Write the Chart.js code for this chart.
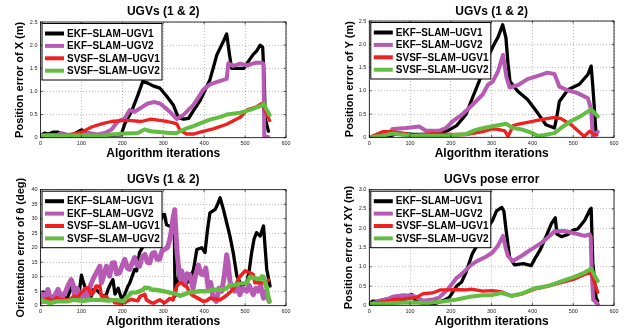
<!DOCTYPE html>
<html><head><meta charset="utf-8">
<script src="https://cdn.jsdelivr.net/npm/chart.js@4.4.1/dist/chart.umd.min.js"></script>
<style>
html,body{margin:0;padding:0;background:#fff;}
body{width:627px;height:336px;position:relative;overflow:hidden;}
.cell{position:absolute;}
canvas{display:block;}
</style></head><body>
<div class="cell" style="left:0;top:0;width:300px;height:168px"><canvas id="c1" width="300" height="168" style="width:300px;height:168px"></canvas></div>
<div class="cell" style="left:330px;top:0;width:297px;height:168px"><canvas id="c2" width="297" height="168" style="width:297px;height:168px"></canvas></div>
<div class="cell" style="left:0;top:168px;width:300px;height:168px"><canvas id="c3" width="300" height="168" style="width:300px;height:168px"></canvas></div>
<div class="cell" style="left:330px;top:168px;width:297px;height:168px"><canvas id="c4" width="297" height="168" style="width:297px;height:168px"></canvas></div>
<script>
// ---- labels and ticks ----
const seriesLabels = ['EKF\u2013SLAM\u2013UGV1', 'EKF\u2013SLAM\u2013UGV2', 'SVSF\u2013SLAM\u2013UGV1', 'SVSF\u2013SLAM\u2013UGV2'];
const chartTitles = ['UGVs (1 & 2)', 'UGVs (1 & 2)', 'UGVs (1 & 2)', 'UGVs pose error'];
const yAxisTitles = ['Position error of X (m)', 'Position error of Y (m)', 'Orientation error of \u03b8 (deg)', 'Position error of XY (m)'];
const xAxisTitle = 'Algorithm iterations';
const iterTicks = [0, 100, 200, 300, 400, 500, 600];
const errXTicks = [0, 0.5, 1, 1.5, 2, 2.5];
const errYTicks = [0, 0.5, 1, 1.5, 2, 2.5];
const thetaTicks = [0, 5, 10, 15, 20, 25, 30, 35, 40];
const poseTicks = [0, 0.5, 1, 1.5, 2, 2.5, 3];

// ---- series: [iteration, value] ----
const ekf1X = [[0,0.05],[10,0.1],[20,0.08],[30,0.12],[43,0.12],[50,0.08],[59,0.05],[75,0.04],[90,0.12],[100,0.17],[116,0.1],[132,0.06],[160,0.05],[197,0.06],[206,0.3],[222,0.56],[238,0.92],[250,1.22],[262,1.18],[275,1.12],[292,1.07],[308,0.9],[325,0.7],[337,0.43],[350,0.4],[362,0.42],[375,0.6],[390,0.8],[414,1.25],[431,1.79],[448,2.1],[455,2.24],[462,1.79],[467,1.5],[480,1.5],[497,1.5],[508,1.65],[520,1.8],[528,1.87],[537,2.0],[543,1.95],[547,1.2],[549,0.43],[557,0.14]];
const ekf2X = [[0,0.03],[20,0.06],[40,0.05],[51,0.1],[67,0.06],[90,0.06],[116,0.1],[140,0.07],[157,0.1],[173,0.17],[189,0.35],[206,0.42],[218,0.6],[230,0.56],[246,0.65],[262,0.74],[279,0.77],[292,0.74],[307,0.63],[317,0.55],[333,0.4],[350,0.5],[374,0.71],[398,1.04],[414,1.15],[430,1.2],[447,1.25],[455,1.27],[459,1.61],[471,1.55],[488,1.6],[505,1.56],[518,1.6],[528,1.62],[541,1.62],[545,1.6],[547,0.02],[556,0.02]];
const svsf1X = [[0,0.05],[30,0.06],[64,0.06],[80,0.08],[100,0.12],[125,0.23],[149,0.3],[173,0.35],[197,0.37],[222,0.37],[246,0.35],[270,0.4],[295,0.37],[310,0.35],[325,0.32],[333,0.3],[341,0.16],[357,0.08],[375,0.08],[390,0.12],[422,0.19],[455,0.29],[488,0.44],[505,0.6],[528,0.67],[541,0.74],[553,0.51],[560,0.37]];
const svsf2X = [[0,0.05],[50,0.05],[108,0.05],[140,0.04],[173,0.07],[206,0.09],[238,0.1],[254,0.18],[270,0.14],[295,0.12],[317,0.1],[333,0.1],[341,0.14],[357,0.2],[374,0.25],[390,0.31],[414,0.39],[440,0.45],[455,0.5],[488,0.54],[512,0.6],[537,0.68],[545,0.73],[553,0.6],[560,0.49]];

const ekf1Y = [[0,0],[30,0.02],[50,0.03],[73,0.09],[106,0.06],[139,0.06],[171,0.08],[196,0.16],[214,0.25],[237,0.49],[253,0.85],[270,1.22],[286,1.62],[302,1.93],[316,2.16],[327,2.42],[335,2.14],[340,1.6],[345,1.2],[364,0.99],[388,0.81],[413,0.52],[433,0.27],[454,0.2],[460,0.45],[466,0.77],[487,1.02],[515,1.14],[536,1.35],[544,1.53],[548,1.1],[552,0.6],[556,0.06]];
const ekf2Y = [[0,0],[30,0.04],[49,0.08],[57,0.18],[90,0.2],[123,0.23],[139,0.14],[171,0.14],[188,0.2],[204,0.34],[229,0.5],[253,0.7],[278,0.92],[291,1.13],[303,1.2],[316,1.43],[328,1.77],[336,1.3],[344,1.07],[364,1.12],[388,1.25],[413,1.32],[437,1.39],[454,1.36],[466,1.09],[487,1.01],[511,0.95],[536,0.84],[544,0.59],[548,0.03],[560,0.12]];
const svsf1Y = [[0,0],[33,0.12],[57,0.12],[81,0.09],[106,0.04],[155,0.08],[196,0.06],[237,0.06],[278,0.12],[302,0.18],[316,0.17],[332,0.14],[340,0.02],[353,0.25],[360,0.27],[388,0.32],[421,0.38],[454,0.43],[470,0.4],[495,0.27],[519,0.08],[527,0.02],[540,0.13],[552,0.05],[558,0.05]];
const svsf2Y = [[0,0],[30,0.03],[57,0.08],[100,0.04],[181,0.03],[237,0.07],[261,0.16],[286,0.21],[316,0.26],[336,0.29],[352,0.2],[373,0.17],[397,0.1],[413,0.03],[429,0.05],[454,0.09],[470,0.2],[495,0.35],[519,0.46],[544,0.6],[560,0.45]];

const ekf1T = [[0,2],[2,3.3],[7,4.7],[10,4.5],[18,3],[26,2.8],[31,3.2],[43,4.5],[51,3.3],[55,3.8],[64,2],[75,6.2],[80,5],[92,4.5],[96,6],[100,10.5],[104,8.4],[108,6.8],[112,3.8],[124,3.3],[129,5.5],[136,5.6],[145,4.4],[152,3.3],[161,3.8],[165,5.6],[170,7.2],[177,9],[182,4],[190,6],[197,2.8],[202,2.6],[214,6.8],[218,7.8],[230,12.5],[235,12],[242,18.3],[255,21.5],[267,21],[271,25.8],[280,25.6],[287,30],[292,29],[300,31.4],[303,31.5],[308,27.9],[316,27.4],[324,26.8],[327,26],[329,3.3],[333,8],[341,11.4],[348,8],[357,7.8],[365,9],[374,12.5],[382,19.4],[394,20],[402,18.3],[408,26],[414,32],[427,33.2],[433,35],[439,37.2],[447,33.2],[455,28.6],[463,24],[471,18.3],[480,10.2],[492,6.8],[504,7.9],[510,12],[516,18.3],[522,23],[528,25.2],[537,24],[545,27.5],[553,12.5],[561,6.8]];
const ekf2T = [[0,2],[5,4],[10,1.5],[18,5.6],[24,2.5],[30,1.7],[37,4],[43,5.6],[50,3],[55,3.3],[62,5],[67,6.8],[75,9],[80,7],[83,3.3],[90,6],[96,2.2],[104,4],[108,5.6],[112,2.6],[116,3.3],[122,7],[128,9],[134,10.7],[141,12.5],[145,13.6],[149,7.9],[153,9.5],[161,13.6],[169,10.2],[175,14.7],[181,14.8],[186,11],[193,11.3],[200,14],[206,16],[212,13],[218,12.5],[225,15],[230,16.6],[236,14],[242,13.6],[249,17],[255,17.7],[261,15],[267,14.8],[273,18],[279,18.3],[285,16],[291,16],[297,19],[303,19.4],[310,20],[316,22.8],[320,26],[324,30.2],[328,33.1],[331,25],[334,18],[338,12.5],[341,9.5],[345,12],[350,8],[353,7.8],[358,11],[365,10.7],[369,8],[373,6],[378,10],[386,14],[392,11],[398,10.7],[404,13],[410,6],[416,8],[422,2.6],[430,1.5],[436,6],[443,5],[449,10],[455,17.6],[458,15],[463,8.4],[469,6],[475,5],[481,7],[487,3.8],[494,6],[504,5],[510,7],[520,3.8],[526,6],[532,5],[538,7],[545,2.6],[550,5],[553,3.8],[559,1.5]];
const svsf1T = [[0,1],[10,2],[20,2.5],[30,1.5],[40,2.8],[50,2],[64,2],[75,2.5],[83,3.3],[88,2.6],[100,4.5],[104,5],[112,6.2],[117,6.1],[124,3.9],[129,4.4],[136,6.8],[145,6.7],[149,3.3],[161,3.2],[165,2.2],[178,2],[181,1],[194,0.9],[206,1],[210,1.5],[222,2.2],[227,2],[238,1.7],[243,3.2],[255,3.9],[259,2],[271,1],[276,0.9],[287,1.7],[292,2],[303,1],[308,1.5],[316,2.5],[324,2],[333,6.8],[341,7.9],[345,7.8],[353,6.8],[357,6.7],[365,4.5],[369,3.8],[382,2.8],[398,1.5],[406,1.7],[414,2.6],[431,2.2],[439,2],[455,3.6],[471,5.6],[487,10],[500,12],[504,11.8],[512,11.3],[520,10.7],[524,7.9],[537,8],[549,7.9],[557,8.8]];
const svsf2T = [[0,2],[23,0.9],[40,1.5],[64,1.5],[80,2],[104,1.7],[125,2],[145,2],[165,1.8],[186,2],[202,1.5],[210,2.8],[218,3.8],[222,4.5],[235,4.6],[251,5.5],[255,6.2],[267,6],[271,5.6],[284,5.4],[300,5],[316,4.5],[333,4],[341,3.4],[349,3.8],[365,4.6],[390,5],[406,5],[414,5.2],[422,5.5],[439,5.5],[455,6],[463,7.2],[471,7],[487,7.6],[504,7.8],[512,10],[520,9.7],[528,9.3],[536,9.2],[541,10.1],[545,10],[549,7.9],[553,6],[559,1.5]];

const ekf1XY = [[0,0.03],[8,0.11],[18,0.1],[41,0.16],[51,0.17],[65,0.11],[83,0.1],[94,0.24],[104,0.28],[114,0.11],[139,0.03],[165,0.06],[181,0.12],[196,0.2],[214,0.5],[226,0.6],[237,0.85],[253,1.35],[270,1.65],[286,1.95],[302,2.2],[312,2.45],[325,2.54],[330,2.44],[336,1.9],[344,1.25],[356,1.05],[378,1.08],[397,1.03],[405,1.19],[419,1.44],[435,1.83],[447,2.13],[456,2.27],[460,1.85],[471,1.78],[487,1.84],[500,1.95],[511,1.98],[528,2.2],[541,2.48],[544,2.52],[548,1.1],[552,0.7],[556,0.2],[560,0.11]];
const ekf2XY = [[0,0.03],[25,0.11],[42,0.15],[57,0.22],[83,0.26],[108,0.25],[132,0.12],[157,0.15],[171,0.2],[181,0.3],[196,0.46],[214,0.71],[221,0.76],[237,0.92],[250,1.05],[263,1.14],[286,1.26],[302,1.37],[315,1.54],[328,1.8],[334,1.5],[340,1.28],[352,1.15],[373,1.28],[397,1.45],[422,1.62],[442,1.8],[454,1.92],[479,1.93],[503,1.87],[528,1.8],[540,1.84],[543,1.78],[545,0.93],[549,0.15],[561,0.02]];
const svsf1XY = [[0,0.03],[41,0.11],[59,0.15],[90,0.17],[114,0.2],[132,0.3],[155,0.32],[175,0.4],[196,0.4],[214,0.41],[237,0.4],[250,0.42],[278,0.37],[302,0.38],[324,0.35],[348,0.24],[373,0.29],[405,0.42],[438,0.5],[470,0.59],[503,0.68],[528,0.8],[544,0.85],[552,0.59],[560,0.34]];
const svsf2XY = [[0,0.03],[59,0.06],[100,0.08],[141,0.06],[181,0.1],[214,0.15],[247,0.22],[278,0.26],[302,0.27],[324,0.32],[348,0.25],[373,0.3],[405,0.44],[438,0.5],[470,0.62],[503,0.74],[528,0.85],[544,0.95],[552,0.78],[560,0.63]];

// ---- styles ----
const FONT = '"Liberation Sans", Arial, Helvetica, sans-serif';
const seriesColors = ['#000000', '#b65ab4', '#ee2020', '#62bd42'];
const seriesWidths = [3.3, 4, 3.3, 4];
const thetaWidths = [3.3, 5, 3.6, 4.4];

const framePlugin = {
  id: 'frame',
  afterDatasetsDraw(chart) {
    const {ctx, chartArea: a, scales} = chart;
    ctx.save();
    ctx.strokeStyle = '#000';
    ctx.lineWidth = 0.8;
    ctx.strokeRect(a.left, a.top, a.right - a.left, a.bottom - a.top);
    ctx.lineWidth = 0.6;
    ctx.beginPath();
    scales.x.ticks.forEach(t => {
      const px = scales.x.getPixelForValue(t.value);
      ctx.moveTo(px, a.bottom); ctx.lineTo(px, a.bottom - 2.5);
      ctx.moveTo(px, a.top); ctx.lineTo(px, a.top + 2.5);
    });
    scales.y.ticks.forEach(t => {
      const py = scales.y.getPixelForValue(t.value);
      ctx.moveTo(a.left, py); ctx.lineTo(a.left + 2.5, py);
      ctx.moveTo(a.right, py); ctx.lineTo(a.right - 2.5, py);
    });
    ctx.stroke();
    // legend box
    const x = a.left + 1.5, y = a.top + 1.5, w = 120, h = 56.5;
    ctx.fillStyle = '#fff';
    ctx.fillRect(x, y, w, h);
    ctx.strokeStyle = '#000';
    ctx.lineWidth = 1;
    ctx.strokeRect(x, y, w, h);
    chart.data.datasets.forEach((ds, i) => {
      const ry = y + 10 + i * 12.4;
      ctx.strokeStyle = ds.borderColor;
      ctx.lineWidth = 4;
      ctx.lineCap = 'butt';
      ctx.beginPath(); ctx.moveTo(x + 3, ry); ctx.lineTo(x + 22, ry); ctx.stroke();
      ctx.fillStyle = '#000';
      ctx.font = 'bold 10px ' + FONT;
      ctx.textBaseline = 'middle';
      ctx.textAlign = 'left';
      ctx.fillText(ds.label, x + 25, ry + 0.5);
    });
    ctx.restore();
  }
};

function build(id, idx, series, yTicks, widths, L) {
  const yMax = yTicks[yTicks.length - 1];
  const tickFont = {family: FONT, size: 5.5};
  const gridOpts = {color: 'rgba(0,0,0,0.32)', lineWidth: 0.8, drawTicks: false};
  new Chart(document.getElementById(id), {
    type: 'line',
    data: {
      datasets: series.map((pts, i) => ({
        label: seriesLabels[i],
        data: pts.map(p => ({x: p[0], y: p[1]})),
        borderColor: seriesColors[i],
        backgroundColor: seriesColors[i],
        borderWidth: widths[i],
        pointRadius: 0,
        tension: 0,
        fill: false,
        order: 3 - i,
        borderJoinStyle: 'round',
        borderCapStyle: 'round'
      }))
    },
    options: {
      responsive: false,
      animation: false,
      devicePixelRatio: 1,
      events: [],
      layout: {padding: {left: 0, right: L.padRight, top: 0, bottom: 0}},
      plugins: {
        legend: {display: false},
        tooltip: {enabled: false},
        title: {display: true, fullSize: false, text: chartTitles[idx], color: '#000',
          font: {family: FONT, size: 12, weight: 'bold', lineHeight: 1.2},
          padding: {top: L.tTop, bottom: L.tBot}}
      },
      scales: {
        x: {
          type: 'linear', min: 0, max: 600,
          afterBuildTicks: s => { s.ticks = iterTicks.map(v => ({value: v})); },
          afterFit: s => { s.height = L.xH; },
          ticks: {font: tickFont, color: '#222', padding: 2.5, maxRotation: 0, autoSkip: false},
          grid: gridOpts,
          border: {display: false, dash: [1, 2]},
          title: {display: true, text: xAxisTitle, color: '#000',
            font: {family: FONT, size: 12, weight: 'bold', lineHeight: 1.2},
            padding: {top: 0, bottom: L.xtB}}
        },
        y: {
          type: 'linear', min: 0, max: yMax,
          afterBuildTicks: s => { s.ticks = yTicks.map(v => ({value: v})); },
          afterFit: s => { s.width = L.yW; },
          ticks: {font: tickFont, color: '#222', padding: 3, autoSkip: false},
          grid: gridOpts,
          border: {display: false, dash: [1, 2]},
          title: {display: true, text: yAxisTitles[idx], color: '#000',
            font: {family: FONT, size: 11, weight: 'bold', lineHeight: 1.2},
            padding: {top: L.ytT, bottom: 0}}
        }
      }
    },
    plugins: [framePlugin]
  });
}

build('c1', 0, [ekf1X, ekf2X, svsf1X, svsf2X], errXTicks, seriesWidths,
  {padRight: 14, tTop: 4.8, tBot: 2.8, xH: 30.3, xtB: 6.8, yW: 40.5, ytT: 13.4});
build('c2', 1, [ekf1Y, ekf2Y, svsf1Y, svsf2Y], errYTicks, seriesWidths,
  {padRight: 13, tTop: 4.8, tBot: 1.8, xH: 30.7, xtB: 7.5, yW: 39.3, ytT: 13.4});
build('c3', 2, [ekf1T, ekf2T, svsf1T, svsf2T], thetaTicks, thetaWidths,
  {padRight: 14, tTop: 4.8, tBot: 2.5, xH: 30.3, xtB: 7.5, yW: 40.5, ytT: 14.1});
build('c4', 3, [ekf1XY, ekf2XY, svsf1XY, svsf2XY], poseTicks, seriesWidths,
  {padRight: 13, tTop: 4.8, tBot: 2.5, xH: 30.7, xtB: 7.5, yW: 39.3, ytT: 12.7});
</script>
</body></html>
